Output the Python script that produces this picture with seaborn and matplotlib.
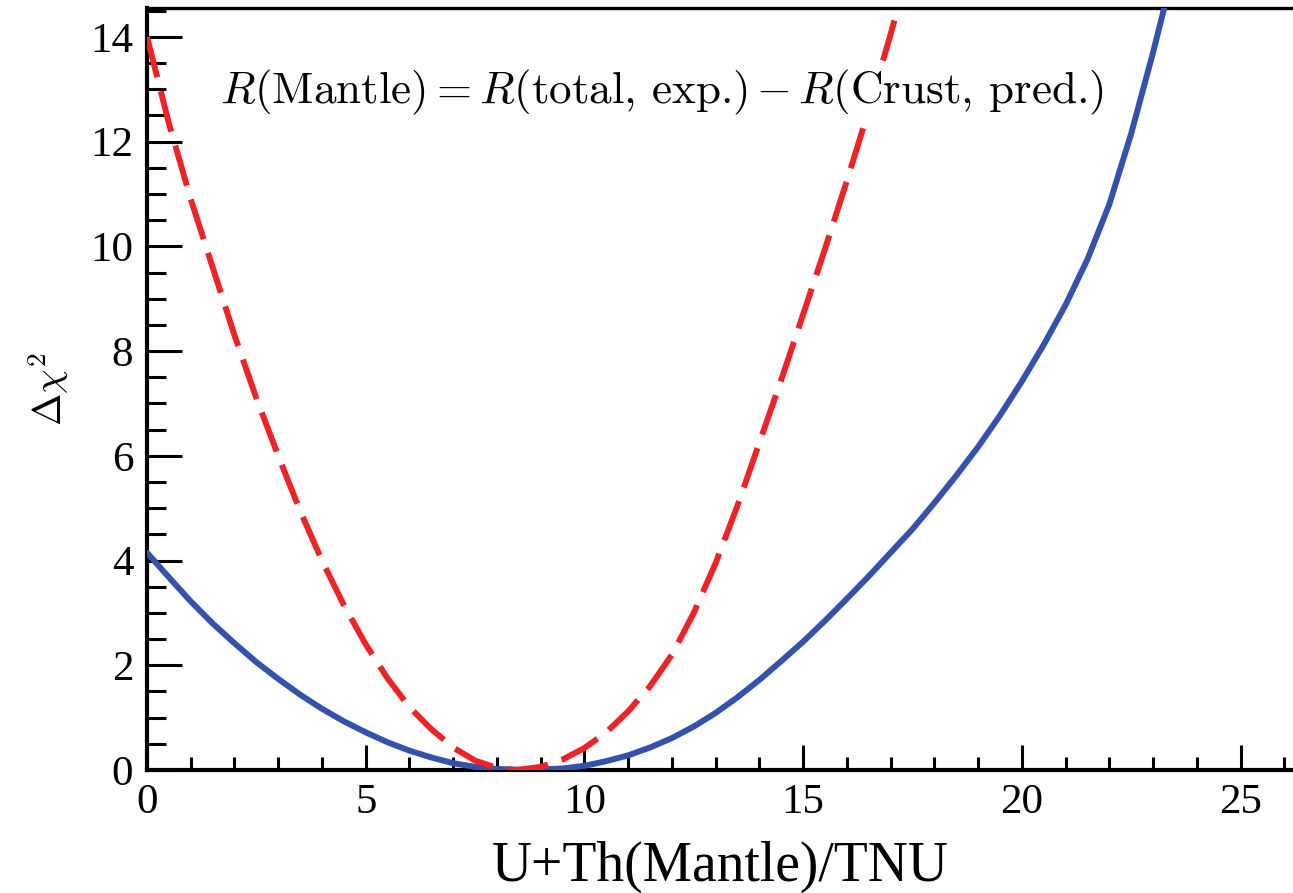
import numpy as np
import pandas as pd
import matplotlib
matplotlib.use("Agg")
import matplotlib.pyplot as plt
from matplotlib.ticker import MultipleLocator
import seaborn as sns

# valores
x_total = [0, 0.5, 1, 1.5, 2, 2.5, 3, 3.5, 4, 4.5, 5, 5.5, 6, 6.5, 7, 7.5,
           8, 8.7, 9.5, 10, 10.5, 11, 11.5, 12, 12.5, 13, 13.5, 14, 14.5,
           15, 15.5, 16, 16.5, 17, 17.5, 18, 18.5, 19, 19.5, 20, 20.5, 21,
           21.5, 22, 22.5, 23, 23.3]
chi_total = [4.15, 3.68, 3.22, 2.8, 2.42, 2.06, 1.74, 1.44, 1.17, 0.93,
             0.72, 0.53, 0.37, 0.24, 0.13, 0.06, 0.02, 0.0, 0.03, 0.08,
             0.17, 0.28, 0.43, 0.61, 0.83, 1.09, 1.39, 1.72, 2.08, 2.45,
             2.85, 3.27, 3.7, 4.15, 4.6, 5.1, 5.62, 6.17, 6.77, 7.42, 8.12,
             8.88, 9.75, 10.8, 12.15, 13.7, 14.7]

x_crust = [0, 0.5, 1, 1.5, 2, 2.5, 3, 3.5, 4, 4.5, 5, 5.5, 6, 6.5, 7, 7.5,
           8, 8.45, 9, 9.5, 10, 10.5, 11, 11.5, 12, 12.5, 13, 13.5, 14, 14.5,
           15, 15.5, 16, 16.5, 17, 17.25]
chi_crust = [14.0, 12.35, 10.9, 9.6, 8.3, 7.1, 6.0, 4.95, 4.0, 3.15, 2.4,
             1.75, 1.2, 0.78, 0.43, 0.18, 0.04, 0.0, 0.06, 0.2, 0.42, 0.72,
             1.12, 1.6, 2.2, 3.0, 3.95, 5.05, 6.25, 7.45, 8.7, 9.95, 11.25,
             12.6, 14.05, 14.8]

x_ticks = [0, 5, 10, 15, 20, 25]
y_ticks = [0, 2, 4, 6, 8, 10, 12, 14]

df_total = pd.DataFrame({"x": x_total, "chi": chi_total})
df_crust = pd.DataFrame({"x": x_crust, "chi": chi_crust})

sns.set_theme(style="ticks")
plt.rcParams["font.family"] = ["Liberation Serif", "DejaVu Serif"]
plt.rcParams["mathtext.fontset"] = "cm"
plt.rcParams["text.color"] = "black"
plt.rcParams["axes.labelcolor"] = "black"
plt.rcParams["xtick.color"] = "black"
plt.rcParams["ytick.color"] = "black"

fig = plt.figure(figsize=(12.93, 8.93), dpi=100)
ax = fig.add_axes([0.1137, 0.1377, 0.8863, 0.8533])

sns.lineplot(data=df_total, x="x", y="chi", ax=ax, color="#3452ad",
             linewidth=4.3, zorder=3)
sns.lineplot(data=df_crust, x="x", y="chi", ax=ax, color="#ec2427",
             linewidth=4.3, zorder=3)
ax.lines[-1].set_dashes((7, 2.4))

ax.set_xlim(0, 26.2)
ax.set_ylim(0, 14.55)
ax.set_xticks(x_ticks)
ax.set_yticks(y_ticks)
ax.xaxis.set_minor_locator(MultipleLocator(1))
ax.yaxis.set_minor_locator(MultipleLocator(0.5))

ax.tick_params(axis="both", which="both", direction="in", width=2.2,
               labelsize=31, top=False, right=False)
ax.tick_params(axis="y", which="major", length=25, pad=10)
ax.tick_params(axis="y", which="minor", length=14)
ax.tick_params(axis="x", which="major", length=18, pad=10)
ax.tick_params(axis="x", which="minor", length=9.5)

for s in ["left", "bottom"]:
    ax.spines[s].set_linewidth(3)
    ax.spines[s].set_color("black")
ax.spines["top"].set_linewidth(2.4)
ax.spines["top"].set_color("black")
ax.spines["right"].set_visible(False)

ax.set_xlabel("U+Th(Mantle)/TNU", fontsize=40, labelpad=13)
ax.set_ylabel(r"$\Delta\chi^2$", fontsize=28, labelpad=14)

ax.text(1.67, 12.73,
        r"$R$(Mantle)$=$$R$(total, exp.)$\,{-}\,$$R$(Crust, pred.)",
        fontsize=32.5, family=["cmr10", "DejaVu Serif"], va="baseline",
        ha="left", zorder=5,
        bbox=dict(facecolor="white", edgecolor="none", pad=2))

fig.savefig("out.png", dpi=100)
